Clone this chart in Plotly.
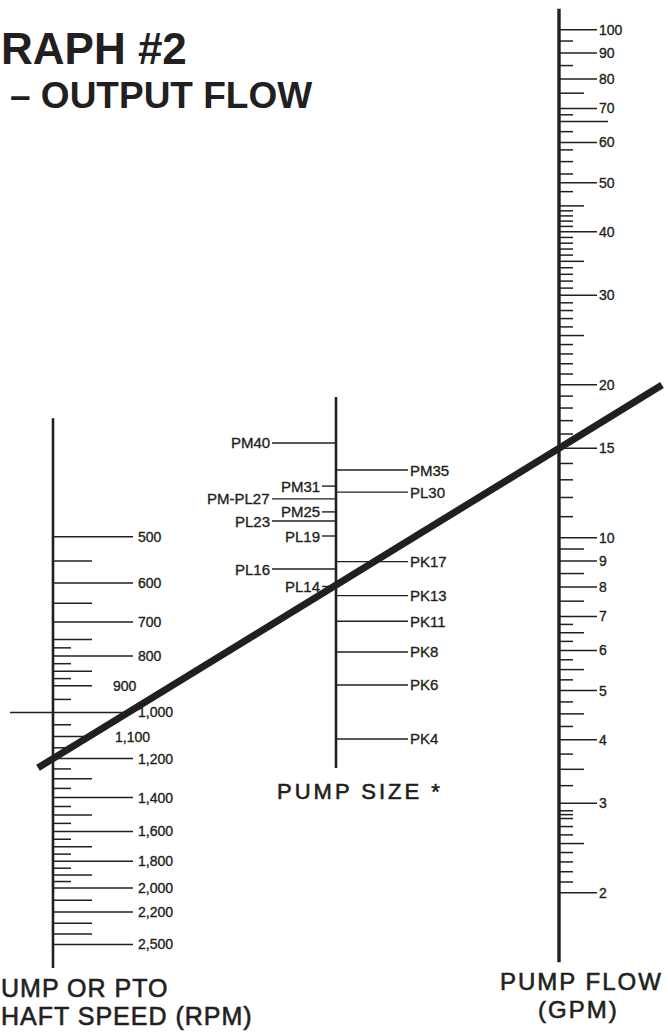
import numpy as np
import plotly.graph_objects as go

INK = "#231f20"
FONT = "Liberation Sans, Arial, Helvetica, sans-serif"

# ---------------- data ----------------
# Left scale: pump or PTO shaft speed (RPM)
rpm_major = [500, 600, 700, 800, 1000, 1200, 1400, 1600, 1800, 2000, 2200, 2500]
rpm_major_labels = ["500", "600", "700", "800", "1,000", "1,200", "1,400",
                    "1,600", "1,800", "2,000", "2,200", "2,500"]
rpm_mid_labeled = [900, 1100]
rpm_mid_labeled_labels = ["900", "1,100"]
rpm_medium = [550, 650, 750, 850, 1300, 1500, 1700, 1900, 2100, 2300, 2400]
rpm_short = [775, 825, 875, 950, 1050, 1150, 1250, 1350, 1450, 1550,
             1650, 1750, 1850, 1950]
rpm_reference = [1000]
rpm_axis_span = [313, 2744]

# Middle scale: pump size (position index)
pump_left = ["PM40", "PM31", "PM-PL27", "PM25", "PL23", "PL19", "PL16", "PL14"]
pump_left_index = [40.0, 28.6, 25.9, 23.4, 21.8, 19.4, 15.0, 13.1]
pump_left_long = [True, False, True, False, True, False, True, False]
pump_right = ["PM35", "PL30", "PK17", "PK13", "PK11", "PK8", "PK6", "PK4"]
pump_right_index = [32.4, 27.3, 15.9, 12.2, 10.0, 7.87, 6.09, 4.0]
pump_axis_span = [3.19, 57.2]

# Right scale: pump flow (GPM)
gpm_major = [100, 90, 80, 70, 60, 50, 40, 30, 20, 15, 10, 9, 8, 7, 6, 5, 4, 3, 2]
gpm_medium = [75, 45, 35, 25, 9.5, 8.5, 7.5, 6.5, 5.5, 4.5, 3.5, 2.5]
gpm_extra = [66]
gpm_short = [95, 85, 68, 63, 58, 55, 52, 48, 44, 43, 42, 41, 39, 38, 37, 36,
             34, 33, 32, 31, 29, 28, 27, 26, 24, 23, 22, 21, 19, 18, 17, 16,
             14, 13, 12, 11, 6.75, 6.25, 5.75, 5.25, 4.75, 4.25, 3.75, 3.25,
             2.9, 2.85, 2.8, 2.7, 2.6, 2.4, 2.3, 2.2, 2.1]
gpm_axis_span = [1.46, 110]

# Example reading drawn across the nomograph
example_rpm = 1200
example_gpm = 15

# Visible text (the source image is cropped at its left edge)
title_line1 = "RAPH #2"
title_line2 = "– OUTPUT FLOW"
rpm_title = ["UMP OR PTO", "HAFT SPEED (RPM)"]
pump_title = "PUMP SIZE *"
gpm_title = ["PUMP FLOW", "(GPM)"]

# ---------------- layout constants ----------------
W, H = 668, 1034
X_RPM, X_PUMP, X_GPM = 53, 336, 559
RPM_RANGE = [3.5515, 1.7783]      # log10 units, bottom -> top
PUMP_RANGE = [-0.3946, 3.0986]
GPM_RANGE = [0.0230, 2.0585]


def segs(x0, x1, vals):
    xs, ys = [], []
    for v in vals:
        xs += [x0, x1, None]
        ys += [v, v, None]
    return xs, ys


fig = go.Figure()


def add_lines(x0, x1, vals, yaxis, width):
    xs, ys = segs(x0, x1, vals)
    fig.add_trace(go.Scatter(x=xs, y=ys, yaxis=yaxis, mode="lines",
                             line=dict(color=INK, width=width),
                             hoverinfo="skip", showlegend=False))


# axis spines
fig.add_trace(go.Scatter(x=[X_RPM, X_RPM], y=rpm_axis_span, yaxis="y", mode="lines",
                         line=dict(color=INK, width=2.6), hoverinfo="skip"))
fig.add_trace(go.Scatter(x=[X_PUMP, X_PUMP], y=pump_axis_span, yaxis="y2", mode="lines",
                         line=dict(color=INK, width=2.6), hoverinfo="skip"))
fig.add_trace(go.Scatter(x=[X_GPM, X_GPM], y=gpm_axis_span, yaxis="y3", mode="lines",
                         line=dict(color=INK, width=3.4), hoverinfo="skip"))

# left ticks
add_lines(X_RPM, 133, rpm_major, "y", 1.5)
add_lines(X_RPM, 92, rpm_medium + rpm_mid_labeled, "y", 1.5)
add_lines(X_RPM, 71, rpm_short, "y", 1.5)
add_lines(10, X_RPM, rpm_reference, "y", 1.5)

# middle ticks
long_l = [v for v, lg in zip(pump_left_index, pump_left_long) if lg]
short_l = [v for v, lg in zip(pump_left_index, pump_left_long) if not lg]
add_lines(272, X_PUMP, long_l, "y2", 1.4)
add_lines(322, X_PUMP, short_l, "y2", 1.4)
add_lines(X_PUMP, 408, pump_right_index, "y2", 1.4)

# right ticks
add_lines(X_GPM, 597, gpm_major, "y3", 1.5)
add_lines(X_GPM, 584, gpm_medium, "y3", 1.5)
add_lines(X_GPM, 608, gpm_extra, "y3", 1.5)
add_lines(X_GPM, 573, gpm_short, "y3", 1.5)

# example line (computed through the scales)
f_left = (np.log10(example_rpm) - RPM_RANGE[0]) / (RPM_RANGE[1] - RPM_RANGE[0])
L_left = GPM_RANGE[0] + f_left * (GPM_RANGE[1] - GPM_RANGE[0])
L_right = np.log10(example_gpm)
slope = (L_right - L_left) / (X_GPM - X_RPM)
ex_x = [38, 662]
ex_y = [10 ** (L_left + slope * (x - X_RPM)) for x in ex_x]
fig.add_trace(go.Scatter(x=ex_x, y=ex_y, yaxis="y3", mode="lines",
                         line=dict(color=INK, width=7), hoverinfo="skip"))

ann = []


def heavy(text, stroke):
    return ('<span style="stroke:%s;stroke-width:%spx">%s</span>'
            % (INK, stroke, text))


def label(text, x, yval, yref, anchor, size=14):
    ann.append(dict(text=heavy(text, 0.35), x=x, y=float(np.log10(yval)),
                    xref="x", yref=yref, xanchor=anchor, yanchor="middle",
                    showarrow=False, font=dict(family=FONT, size=size, color=INK)))


for v, t in zip(rpm_major, rpm_major_labels):
    label(t, 136, v, "y", "left")
label(rpm_mid_labeled_labels[0], 111, rpm_mid_labeled[0], "y", "left")
label(rpm_mid_labeled_labels[1], 113, rpm_mid_labeled[1], "y", "left")

for name, v, lg in zip(pump_left, pump_left_index, pump_left_long):
    label(name, 272 if lg else 322, v, "y2", "right", 15)
for name, v in zip(pump_right, pump_right_index):
    label(name, 408, v, "y2", "left", 15)

for v in gpm_major:
    label(str(v), 597, v, "y3", "left")


def ptext(text, xpix, ypix, anchor, size, bold=False, spacing=0, stroke=0):
    style = []
    if spacing:
        style.append("letter-spacing:%spx" % spacing)
    if stroke:
        style.append("stroke:%s;stroke-width:%spx" % (INK, stroke))
    if style:
        text = '<span style="%s">%s</span>' % (";".join(style), text)
    ann.append(dict(text=text, x=xpix / W, y=1 - ypix / H, xref="paper", yref="paper",
                    xanchor=anchor, yanchor="middle", showarrow=False,
                    font=dict(family=FONT, size=size, color=INK,
                              weight="bold" if bold else "normal")))


ptext(title_line1, -1, 48, "left", 44, bold=True)
ptext(title_line2, 8, 95, "left", 37, bold=True)
ptext(rpm_title[0], -1, 988, "left", 25, spacing=1, stroke=0.6)
ptext(rpm_title[1], -1, 1016, "left", 25, spacing=1, stroke=0.6)
ptext(pump_title, 360, 791, "center", 22, spacing=3, stroke=0.6)
ptext(gpm_title[0], 581, 981, "center", 24, spacing=2, stroke=0.6)
ptext(gpm_title[1], 578, 1009, "center", 24, spacing=2, stroke=0.6)

fig.update_layout(
    width=W, height=H, margin=dict(l=0, r=0, t=0, b=0),
    paper_bgcolor="white", plot_bgcolor="white", showlegend=False,
    xaxis=dict(range=[0, W], visible=False, fixedrange=True),
    yaxis=dict(type="log", range=RPM_RANGE, visible=False),
    yaxis2=dict(type="log", range=PUMP_RANGE, visible=False, overlaying="y"),
    yaxis3=dict(type="log", range=GPM_RANGE, visible=False, overlaying="y"),
    annotations=ann,
)

fig.write_html(
    "out.html",
    config={"displayModeBar": False},
    post_script="document.body.style.margin='0';document.body.style.overflow='hidden';",
)
